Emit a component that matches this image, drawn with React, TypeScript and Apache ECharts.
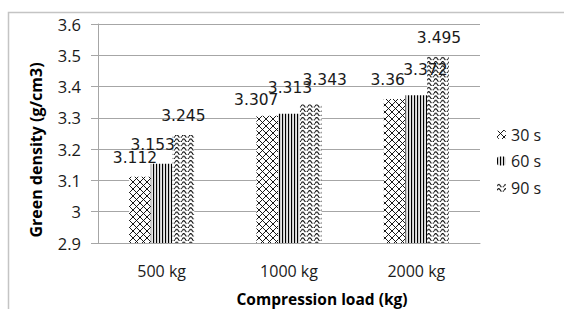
import React, { useEffect, useRef } from "react";
import * as echarts from "echarts";

const categories = ["500 kg", "1000 kg", "2000 kg"];
const seriesNames = ["30 s", "60 s", "90 s"];
const values30 = [3.112, 3.307, 3.36];
const values60 = [3.153, 3.313, 3.372];
const values90 = [3.245, 3.343, 3.495];
// label nudges (dx, dy) mimicking the reference's overlapping labels
const labelNudge30 = [[-5, 0], [-11, 3], [-7, 0]];
const labelNudge60 = [[-9, 0], [1, -7], [9, -6]];
const labelNudge90 = [[0, 0], [14, -5], [1, 0]];

const svgUrl = (s: string) => "data:image/svg+xml;charset=utf-8," + encodeURIComponent(s);

const crossTile = svgUrl(
  '<svg xmlns="http://www.w3.org/2000/svg" width="7" height="7"><rect width="7" height="7" fill="#fff"/><path d="M0 0L7 7M7 0L0 7" stroke="#000" stroke-width="0.9"/></svg>'
);
const vertTile = svgUrl(
  '<svg xmlns="http://www.w3.org/2000/svg" width="3" height="3"><rect width="3" height="3" fill="#e6e6e6"/><rect x="0" width="1.1" height="3" fill="#000"/></svg>'
);
const waveTile = svgUrl(
  '<svg xmlns="http://www.w3.org/2000/svg" width="7" height="4.3"><rect width="7" height="4.3" fill="#fff"/><path d="M0 3 Q1.75 -0.2 3.5 3 T7 3" fill="none" stroke="#000" stroke-width="1"/></svg>'
);

const pat = (image: string, w: number, h: number) => ({ image, repeat: "repeat", imageWidth: w, imageHeight: h });

export default function App() {
  const ref = useRef<HTMLDivElement>(null);
  useEffect(() => {
    if (!ref.current) return;
    const chart = echarts.init(ref.current, null, { renderer: "svg" });
    const mk = (name: string, vals: number[], nudges: number[][], color: any) => ({
      name,
      type: "bar",
      barWidth: 21.7,
      barGap: "0%",
      itemStyle: { color },
      data: vals.map((v, i) => ({
        value: v,
        label: { offset: nudges[i] },
      })),
      label: {
        show: true,
        position: "top",
        distance: 11,
        fontFamily: "DejaVu Sans",
        fontSize: 15.5,
        color: "#1a1a1a",
      },
    });
    chart.setOption({
      animation: false,
      backgroundColor: "#fff",
      grid: { left: 98, top: 24, right: 84, bottom: 66 },
      legend: {
        orient: "vertical",
        left: 492,
        top: 120,
        itemWidth: 9,
        itemHeight: 9,
        itemGap: 7.5,
        textStyle: { fontFamily: "Open Sans", fontSize: 16, color: "#1a1a1a", lineHeight: 19 },
        data: seriesNames,
      },
      xAxis: {
        type: "category",
        data: categories,
        axisLine: { show: true, lineStyle: { color: "#a6a6a6", width: 1 } },
        axisTick: { show: false },
        axisLabel: { margin: 20, fontFamily: "Open Sans", fontSize: 16, color: "#1a1a1a" },
        splitLine: { show: false },
      },
      yAxis: {
        type: "value",
        min: 2.9,
        max: 3.6,
        interval: 0.1,
        axisLine: { show: true, lineStyle: { color: "#a6a6a6", width: 1 } },
        axisTick: { show: true, length: 7, lineStyle: { color: "#a6a6a6" } },
        axisLabel: {
          margin: 17,
          fontFamily: "Open Sans",
          fontSize: 16.5,
          color: "#1a1a1a",
          formatter: (v: number) => String(Math.round(v * 10) / 10),
        },
        splitLine: { show: true, lineStyle: { color: "#a6a6a6", width: 1 } },
      },
      graphic: [
        {
          type: "rect",
          shape: { x: 8.5, y: 12.5, width: 800, height: 500 },
          style: { fill: "none", stroke: "#c4c4c4", lineWidth: 1.5 },
          silent: true,
        },
        {
          type: "text",
          x: 36,
          y: 150,
          rotation: Math.PI / 2,
          style: {
            text: "Green density (g/cm3)",
            fontFamily: "Open Sans",
            fontWeight: "bold",
            fontSize: 16,
            fill: "#000",
            align: "center",
            verticalAlign: "middle",
          },
        },
        {
          type: "text",
          x: 322,
          y: 299,
          style: {
            text: "Compression load (kg)",
            fontFamily: "Open Sans",
            fontWeight: "bold",
            fontSize: 15.5,
            lineHeight: 18,
            fill: "#000",
            align: "center",
            verticalAlign: "middle",
          },
        },
      ],
      series: [
        mk(seriesNames[0], values30, labelNudge30, pat(crossTile, 7, 7)),
        mk(seriesNames[1], values60, labelNudge60, pat(vertTile, 3, 3)),
        mk(seriesNames[2], values90, labelNudge90, pat(waveTile, 7, 4.3)),
      ],
    });
    return () => chart.dispose();
  }, []);
  return <div ref={ref} style={{ width: 564, height: 309, position: "absolute", left: 0, top: 0 }} />;
}
